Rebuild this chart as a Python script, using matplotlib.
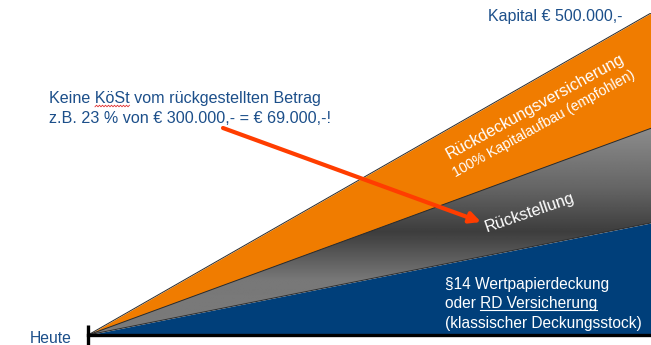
import numpy as np
import matplotlib
matplotlib.use("Agg")
import matplotlib.pyplot as plt

# stacked capital build-up from "Heute" to the target date
time = [0.0, 1.0]
deckung = [0, 174000]          # §14 Wertpapierdeckung / RD Versicherung
rueckstellung = [0, 147000]    # Rückstellung
versicherung = [0, 179000]     # Rückdeckungsversicherung
capital_max = 500000

ORANGE = "#F07C00"
BLUE = "#003F7A"
TEXT_BLUE = "#1C4F8A"
ARROW = "#FF3D00"

W, H = 651, 345
plt.rcParams["font.family"] = ["Liberation Sans", "DejaVu Sans"]

fig = plt.figure(figsize=(W / 100, H / 100), dpi=100)
# axes: x=0 at the "Heute" tick, y=0 on the base line
ax = fig.add_axes([88 / W, (H - 335) / H, (W - 88) / W, 322 / H])
ax.set_xlim(0, 1)
ax.set_ylim(0, capital_max)
ax.axis("off")

low = np.array(deckung, float)
mid = low + np.array(rueckstellung, float)
top = mid + np.array(versicherung, float)
t = np.array(time)

ax.fill_between(t, 0, low, color=BLUE, lw=0, zorder=1)
ax.fill_between(t, mid, top, color=ORANGE, lw=0, zorder=1)
gray_poly = ax.fill(np.r_[t, t[::-1]], np.r_[low, mid[::-1]],
                    color="#777777", lw=0, zorder=1)[0]

# gray band: light at the top, dark streak in the middle, lighter again below
yy = np.linspace(0, capital_max, 400)
stops_v = [0, 85000, 160000, 230000, 321000, capital_max]
stops_c = [0.48, 0.47, 0.24, 0.40, 0.55, 0.55]
shade = np.interp(yy, stops_v, stops_c)
img = np.repeat(shade[:, None], 2, axis=1)
im = ax.imshow(img, extent=[0, 1, 0, capital_max], origin="lower",
               cmap="gray", vmin=0, vmax=1, aspect="auto", zorder=2,
               interpolation="bilinear")
im.set_clip_path(gray_poly)

for edge in (low, mid, top):
    ax.plot(t, edge, color="#2a2a2a", lw=0.7, zorder=3)

# base line and start tick
ax.axhline(0, color="black", lw=2.4, zorder=4, clip_on=False)
ax.vlines(0, -10 / 322, 10 / 322, color="black", lw=2.4,
          transform=ax.get_xaxis_transform(), clip_on=False, zorder=4)


def px(x, y):
    return x / W, 1 - y / H


fig.text(*px(488, 21), "Kapital € 500.000,-", color=TEXT_BLUE,
         fontsize=11.5, va="baseline")
fig.text(*px(30, 343), "Heute", color=TEXT_BLUE, fontsize=11.3,
         va="baseline")

fig.text(*px(49, 103), "Keine KöSt vom rückgestellten Betrag",
         color=TEXT_BLUE, fontsize=11.6, va="baseline")
fig.text(*px(49, 123), "z.B. 23 % von € 300.000,- = € 69.000,-!",
         color=TEXT_BLUE, fontsize=11.6, va="baseline")

# spell-check squiggle under "KöSt"
sx = np.arange(95, 131, 1.5)
sy = 106 + 0.8 * (-1) ** np.arange(len(sx))
fig.add_artist(plt.Line2D(sx / W, 1 - sy / H, color="#E03030", lw=0.6))

fig.text(*px(535, 107), "Rückdeckungsversicherung", color="white",
         fontsize=11.8, rotation=29, rotation_mode="anchor",
         ha="center", va="center")
fig.text(*px(544, 124), "100% Kapitalaufbau (empfohlen)", color="white",
         fontsize=10.2, rotation=29, rotation_mode="anchor",
         ha="center", va="center")
fig.text(*px(530, 213), "Rückstellung", color="white", fontsize=11.8,
         rotation=19, rotation_mode="anchor", ha="center", va="center")

fig.text(*px(445, 289), "§14 Wertpapierdeckung", color="white",
         fontsize=11.2, va="baseline")
line2 = fig.text(*px(445, 308), "oder RD Versicherung", color="white",
                 fontsize=11.2, va="baseline")
fig.text(*px(445, 328), "(klassischer Deckungsstock)", color="white",
         fontsize=11.2, va="baseline")

# underline "RD Versicherung"
fig.canvas.draw()
r = fig.canvas.get_renderer()
probe = fig.text(0, 0, "RD Versicherung", fontsize=11.2)
w_part = probe.get_window_extent(r).width
probe.remove()
bb = line2.get_window_extent(r)
ux0, ux1 = bb.x1 - w_part, bb.x1
uy = (H - 310) / H
fig.add_artist(plt.Line2D([ux0 / W, ux1 / W], [uy, uy], color="white", lw=0.8))

ax.annotate("", xy=px(481, 222), xytext=px(223, 128),
            xycoords="figure fraction", textcoords="figure fraction",
            arrowprops=dict(arrowstyle="-|>", color=ARROW, lw=3,
                            mutation_scale=16, shrinkA=0, shrinkB=0),
            zorder=6)

fig.savefig("out.png", dpi=100)
